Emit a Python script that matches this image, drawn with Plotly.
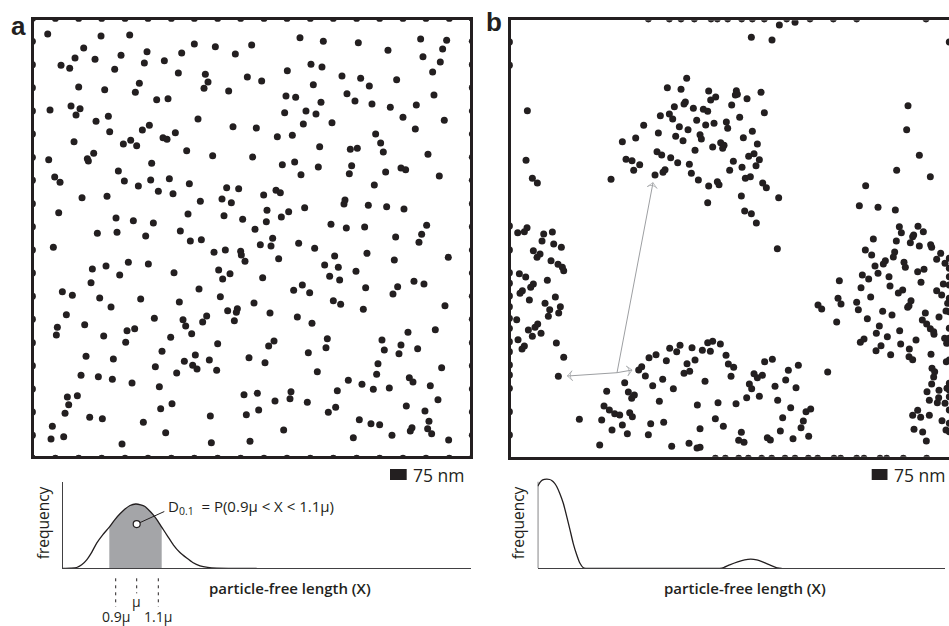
import plotly.graph_objects as go

# ---------------- data (particle positions, field units; y grows downward) ----------------
# Panel a: random particle field
A_UPPER = [
    (143,102),(303,108),(389,105),(900,113),(970,124),(1075,128),(1262,117),(1340,121),
    (251,144),(583,132),(646,140),(755,135),(1164,151),(1328,147),
    (225,174),(285,178),(363,166),(441,155),(545,159),(706,162),(1269,170),
    (183,196),(209,205),(344,208),(433,189),(493,182),(933,193),(966,201),(1321,186),
    (535,219),(616,223),(862,212),(1026,228),(1298,216),
    (236,261),(314,269),(418,250),(406,277),(624,246),(612,265),(686,273),(742,231),(785,243),
    (940,254),(1082,235),(1108,258),(1190,239),
    (470,299),(504,296),(858,288),(887,292),(1041,281),(1065,303),(1302,285),
    (150,330),(213,318),(240,326),(228,345),(963,307),(1116,312),(1171,322),(1249,315),
    (288,364),(325,349),(594,357),(854,338),(918,333),(948,342),(1209,352),(1333,361),
    (329,395),(427,390),(448,376),(526,398),(489,413),(501,418),(699,380),(769,384),(910,372),
    (996,368),(1246,387),
    (222,425),(370,432),(392,421),(410,437),(832,410),(877,406),(1127,402),(1142,429),
    (146,479),(262,476),(281,460),(265,483),(560,452),(638,467),(758,471),(959,440),(1051,448),
    (1072,445),(1150,456),(1284,463),
    (455,490),(847,494),(884,486),(955,501),(1055,497),(1048,521),(1203,504),(1217,509),
    (1157,516),(1318,528),
    (164,531),(180,547),(355,513),(373,543),(415,558),(452,540),(508,536),(568,551),(903,524),
    (1123,555),
    (246,593),(321,589),(475,574),(519,581),(680,563),(716,566),(791,585),(828,571),(841,578),
    (666,597),(694,608),(601,604),(1032,612),(1035,600),(1105,616),(1160,620),(1212,627),
    (176,638),(348,654),(400,662),(460,669),(564,642),(672,647),(728,658),(801,631),(799,665),
    (844,651),(866,635),(914,623),
    (765,688),(993,673),(1039,684),(1094,681),(1280,676),
]
A_LOWER = [
    (292,700),(351,697),(437,708),(541,693),(571,723),(604,719),(818,715),(1187,711),(1265,703),
    (1257,727),
    (160,742),(642,757),(676,750),(722,754),(724,765),(735,784),(781,734),(813,738),(896,730),
    (944,745),(836,776),(1101,760),(1004,768),(1183,780),(1345,772),
    (277,807),(318,798),(385,787),(445,792),(359,825),(522,818),(656,810),(690,821),(668,837),
    (788,833),(974,795),(1015,802),(989,829),(1019,840),(1068,814),
    (273,848),(187,875),(217,886),(299,894),(333,921),(422,897),(597,867),(538,906),(661,890),
    (762,909),(881,871),(907,855),(929,878),(1097,863),(1193,860),(1179,882),(1242,844),
    (1272,852),(1000,902),(1022,913),(1090,928),(1335,917),
    (199,944),(172,982),(169,1005),(254,974),(311,1008),(381,992),(404,986),(463,955),(549,959),
    (557,978),(575,1001),(608,966),(620,948),(683,932),(712,926),(709,937),(703,962),(810,939),
    (892,951),(936,970),(1306,989),
    (377,1027),(512,1012),(653,1031),(806,1038),(822,1023),(982,1016),(978,1043),(1146,1020),
    (1153,1050),(1224,997),(1203,1035),(1197,1061),(1253,1046),
    (258,1069),(340,1077),(486,1054),(586,1065),(553,1084),(578,1096),(591,1107),(628,1080),
    (650,1111),(747,1073),(795,1088),(925,1058),(1134,1091),(1325,1103),
    (243,1126),(295,1130),(337,1138),(396,1149),(466,1100),(530,1119),(952,1115),(1130,1123),
    (1228,1133),(1239,1146),(1045,1141),(1086,1153),(1120,1168),(1168,1164),(1291,1157),
    (202,1191),(232,1187),(206,1214),(478,1160),(516,1211),(482,1226),(732,1184),(772,1180),
    (825,1203),(873,1175),(870,1196),(922,1207),(1012,1172),(1314,1199),
    (195,1240),(269,1252),(307,1256),(430,1267),(631,1248),(739,1244),(776,1230),(985,1237),
    (1007,1222),(1219,1218),(1275,1233),(1078,1259),(1113,1271),(1139,1274),(1287,1264),
    (157,1279),(153,1317),(191,1310),(366,1332),(497,1298),(634,1328),(750,1324),(851,1290),
    (1060,1313),(1176,1306),(1236,1283),(1231,1293),(1283,1286),(1295,1301),(1346,1320),
]
# boundary particles of panel a (regular spacing along each edge)
A_EDGE_X = [97,166,236,305,375,444,514,583,653,722,792,861,931,1000,1070,1139,1209,1278,1348,1417]
A_EDGE_Y = [55,124,194,263,333,402,472,541,611,680,750,819,889,958,1028,1097,1167,1236,1306,1375]

# Panel b: clustered particle field
B_UPPER = [
    (898,75),(945,67),(814,112),(876,120),
    (620,235),(562,263),(603,268),(686,273),(769,272),(766,285),(772,283),(843,277),(707,291),
    (692,300),(801,296),
    (583,320),(616,306),(612,312),(640,325),(670,328),(683,334),(755,315),(853,338),(541,347),
    (568,342),(578,357),(779,352),
    (491,376),(598,380),(624,389),(650,361),(677,375),(702,370),(739,366),(743,385),
    (467,414),(427,425),(535,399),(587,409),(609,422),(660,404),(664,417),(698,441),(722,428),
    (732,436),(728,445),(790,413),(817,394),(832,432),
    (531,455),(545,465),(572,473),(645,451),(806,469),(822,461),(838,479),
    (438,478),(456,482),(479,494),(461,511),(593,488),(628,493),(760,484),(786,502),(828,497),
    (525,525),(549,517),(555,509),(634,520),(655,540),(749,511),(796,535),(811,530),
    (393,538),(686,558),(712,545),(717,554),(848,549),(859,563),
    (683,608),(784,588),(896,593),
    (794,633),(814,641),(829,669),
    (142,332),(138,481),(157,535),(172,549),(141,683),
    (1284,317),(1280,389),(1318,466),(1250,511),(1351,530),(1157,557),(1138,617),(1194,622),
    (1246,630),(1258,680),(1314,679),
]
B_LOWER = [
    # left cluster
    (113,698),(133,695),(191,702),(186,723),(217,696),(221,732),(244,742),(160,752),(180,762),
    (171,772),(213,782),(234,793),(247,802),(251,812),
    (118,821),(137,831),(202,841),(160,852),(152,862),(127,872),(120,880),(148,900),(195,910),
    (226,891),(209,929),(241,920),(236,939),(205,949),
    (110,959),(145,990),(173,972),(165,982),(157,1009),(183,1000),(114,1019),(133,1038),
    (126,1047),(229,1029),(251,1072),(235,1129),
    # bottom cluster
    (380,1174),(434,1148),(445,1176),(455,1195),(463,1185),(476,1110),(485,1100),(496,1128),
    (507,1073),(528,1064),(518,1157),(548,1138),(559,1082),(569,1045),(590,1055),(600,1036),
    (580,1166),(538,1204),(612,1120),(621,1091),(629,1114),(636,1043),(645,1080),(667,1051),
    (683,1028),(698,1024),(691,1054),(721,1032),(738,1066),(745,1092),(761,1102),(753,1129),
    (675,1144),(652,1215),(714,1208),(768,1211),(706,1256),(730,1279),(660,1286),(551,1267),
    (512,1271),(505,1304),(442,1301),(427,1275),(396,1290),(365,1260),(298,1258),(372,1218),
    (388,1230),(404,1241),(419,1245),(449,1238),(457,1250),(359,1335),(575,1339),(627,1330),
    (651,1344),(660,1342),(776,1321),(792,1327),(784,1297),(862,1313),(871,1320),(901,1293),
    (939,1316),(986,1309),(963,1283),(970,1263),(978,1235),(992,1227),(908,1253),(932,1223),
    (893,1201),(838,1189),(800,1193),(808,1152),(815,1166),(822,1121),(832,1133),(847,1126),
    (854,1085),(877,1078),(885,1159),(917,1140),(925,1111),(948,1163),(955,1096),
    (892,746),(1043,1116),
    # right cluster
    (1180,717),(1249,723),(1264,698),(1298,710),(1301,705),(1291,728),(1318,738),(1352,734),
    (1355,742),(1330,695),
    (1156,750),(1175,765),(1244,756),(1240,771),(1216,782),(1210,792),(1185,798),(1194,820),
    (1272,787),(1276,802),(1313,815),(1332,808),(1370,778),(1382,760),(1395,790),
    (1147,825),(1166,837),(1227,830),(1078,842),(1143,863),(1172,891),(1230,858),(1255,879),
    (1268,870),(1323,847),(1390,852),(1370,872),(1385,885),
    (1074,895),(1083,912),(1014,915),(1025,927),(1130,907),(1135,929),(1208,934),(1236,945),
    (1283,922),(1293,902),(1287,917),(1336,939),(1377,951),(1398,933),(1403,910),
    (1070,966),(1162,956),(1198,978),(1189,1000),(1222,1010),(1259,992),(1327,960),(1340,972),
    (1351,986),(1362,1003),(1361,995),(1308,1020),(1394,1015),
    (1141,1027),(1152,1017),(1203,1037),(1188,1052),(1232,1064),(1262,1032),(1288,1047),
    (1287,1070),(1298,1079),(1353,1063),(1400,1030),
    (1356,1105),(1364,1115),(1361,1131),(1355,1152),(1399,1085),(1341,1175),(1377,1171),
    (1348,1201),(1376,1193),(1372,1208),(1401,1165),(1395,1210),
    (1313,1231),(1298,1246),(1322,1252),(1348,1246),(1386,1262),(1302,1288),(1328,1296),
    (1339,1323),(1398,1290),
]
B_TOP_EDGE_X = [505,568,603,643,693,712,743,785,817,853,920,990,1060,1130,1338]
B_BOTTOM_EDGE_X = [706,736,776,805,845,875,915,945,985,1013,1062,1082,1130,1152,1200,1220,1270,1340]
B_LEFT_EDGE_Y = [126,196,678,750,818,850,888,920,955,985,1025,1055,1095,1125,1165,1235,1305]
B_RIGHT_EDGE_Y = [126,775,805,830,855,895,935,985,1015,1080,1150,1170,1190,1230,1270,1295]
B_EDGE_POS = {"top": 57, "bottom": 1375, "left": 88, "right": 1408}

# particle-free length distributions
A_DIST_X = [0, 8, 14, 19, 24, 29, 34, 40, 46.6, 52, 57.3, 62, 67.3, 73, 78, 82.3, 86, 90.6, 95, 99,
            105, 110.6, 117, 124, 130, 137.3, 145, 154, 194]
A_DIST_Y = [0, 0.2, 0.8, 3.5, 8.5, 16, 25.2, 33.5, 41.2, 48.5, 54.5, 59, 62.8, 64.3, 63.5, 61.8,
            58.3, 53.5, 47.5, 41.2, 32, 23.5, 16, 10.2, 5.8, 2.5, 0.9, 0.2, 0]
FILL_X = [46.6, 52, 57.3, 62, 67.3, 73, 78, 82.3, 86, 90.6, 95, 99]
FILL_Y = [41.2, 48.5, 54.5, 59, 62.8, 64.3, 63.5, 61.8, 58.3, 53.5, 47.5, 41.2]
MU_TICKS = [53, 74, 95.6]
MU_LABELS = ["0.9\u03bc", "\u03bc", "1.1\u03bc"]
MU_POINT = (74, 44.2)

B_DIST_X = [0, 2.3, 5, 9, 12, 14, 17, 19, 22, 25.6, 29, 32.3, 35.5, 39, 42, 45.6, 48, 80, 120, 150,
            182, 186, 192, 200, 207, 213, 219, 226, 233, 240, 244]
B_DIST_Y = [82, 86, 88.5, 89.2, 88.8, 87.8, 85, 81.8, 75, 65, 52, 38.5, 25, 13.5, 5.5, 0.5, 0, 0, 0, 0,
            0, 0.8, 3.5, 6.5, 8.5, 9.2, 8.5, 6, 3, 0.3, 0]

# arrows in panel b (particle-free lengths measured from one particle)
ARROW_TAIL = (411, 1118)
ARROW_HEADS = [(519, 548), (262, 1128), (456, 1110)]

# ---------------- figure ----------------
W, H = 949, 626
INK = "#231f20"
def PX(x): return x / W
def PY(y): return 1 - y / H

def edge_points_a():
    pts = []
    for x in A_EDGE_X:
        pts += [(x, A_EDGE_Y[0]), (x, A_EDGE_Y[-1])]
    for y in A_EDGE_Y:
        pts += [(A_EDGE_X[0], y), (A_EDGE_X[-1], y)]
    return pts

def edge_points_b():
    pts = [(x, B_EDGE_POS["top"]) for x in B_TOP_EDGE_X]
    pts += [(x, B_EDGE_POS["bottom"]) for x in B_BOTTOM_EDGE_X]
    pts += [(B_EDGE_POS["left"], y) for y in B_LEFT_EDGE_Y]
    pts += [(B_EDGE_POS["right"], y) for y in B_RIGHT_EDGE_Y]
    return pts

a_pts = A_UPPER + A_LOWER + edge_points_a()
b_pts = B_UPPER + B_LOWER + edge_points_b()

fig = go.Figure()
mk = dict(size=7, color=INK, line=dict(width=0))
fig.add_trace(go.Scatter(x=[p[0] for p in a_pts], y=[p[1] for p in a_pts], mode="markers",
                         marker=mk, xaxis="x", yaxis="y", hoverinfo="skip"))
# gray arrows (drawn under the particles)
for hx, hy in ARROW_HEADS:
    fig.add_trace(go.Scatter(x=[ARROW_TAIL[0], hx], y=[ARROW_TAIL[1], hy], mode="lines+markers",
                             line=dict(color="#9d9fa2", width=1),
                             marker=dict(symbol=["circle", "arrow-wide-open"], size=[0, 7],
                                         angleref="previous", color="#9d9fa2",
                                         line=dict(color="#9d9fa2", width=1)),
                             xaxis="x2", yaxis="y2", hoverinfo="skip"))
fig.add_trace(go.Scatter(x=[p[0] for p in b_pts], y=[p[1] for p in b_pts], mode="markers",
                         marker=mk, xaxis="x2", yaxis="y2", hoverinfo="skip"))

# distribution a
fig.add_trace(go.Scatter(x=FILL_X, y=FILL_Y, mode="lines", fill="tozeroy", fillcolor="#a4a5a8",
                         line=dict(width=0, shape="spline", smoothing=0.6), xaxis="x3", yaxis="y3",
                         hoverinfo="skip"))
fig.add_trace(go.Scatter(x=A_DIST_X, y=A_DIST_Y, mode="lines",
                         line=dict(color=INK, width=1.3, shape="spline", smoothing=0.6),
                         xaxis="x3", yaxis="y3", hoverinfo="skip"))
fig.add_trace(go.Scatter(x=[MU_POINT[0], 101.6], y=[MU_POINT[1], 56.8], mode="lines",
                         line=dict(color=INK, width=1), xaxis="x3", yaxis="y3", hoverinfo="skip"))
fig.add_trace(go.Scatter(x=[MU_POINT[0]], y=[MU_POINT[1]], mode="markers",
                         marker=dict(size=7, color="white", line=dict(color=INK, width=1.2)),
                         xaxis="x3", yaxis="y3", hoverinfo="skip"))
# distribution b
fig.add_trace(go.Scatter(x=B_DIST_X, y=B_DIST_Y, mode="lines",
                         line=dict(color=INK, width=1.3, shape="spline", smoothing=0.5),
                         xaxis="x4", yaxis="y4", hoverinfo="skip"))

box = dict(showline=True, linewidth=3, linecolor=INK, showgrid=False, zeroline=False,
           showticklabels=False, ticks="", fixedrange=True)
dist = dict(showline=True, linewidth=1.3, linecolor="#414042", showgrid=False, zeroline=False,
            showticklabels=False, ticks="", fixedrange=True)

fig.update_layout(
    width=W, height=H, margin=dict(l=0, r=0, t=0, b=0),
    paper_bgcolor="white", plot_bgcolor="white", showlegend=False,
    xaxis=dict(box, domain=[PX(33.7), PX(470.3)], range=[101, 1411], mirror=True, anchor="y"),
    yaxis=dict(box, domain=[PY(456.3), PY(19.7)], range=[1369, 59], mirror=True, anchor="x"),
    xaxis2=dict(box, domain=[PX(510.7), 1.0], range=[92, 1407], mirror=True, anchor="y2"),
    yaxis2=dict(box, domain=[PY(456.7), PY(20.3)], range=[1370, 61], mirror=False, anchor="x2"),
    xaxis3=dict(dist, domain=[PX(62.7), PX(470.7)], range=[0, 408], anchor="y3"),
    yaxis3=dict(dist, domain=[PY(568.3), PY(481.7)], range=[0, 86.6], anchor="x3"),
    xaxis4=dict(dist, domain=[PX(537.7), PX(945)], range=[0, 407.3], anchor="y4"),
    yaxis4=dict(dist, domain=[PY(568.3), PY(477)], range=[0, 91.3], showline=False, anchor="x4"),
)

shapes = []
# b distribution y axis line (shorter than its plot area)
shapes.append(dict(type="line", xref="x4", yref="y4", x0=0, x1=0, y0=0, y1=86.6,
                   line=dict(color="#414042", width=1.3)))
# dashed ticks under distribution a
for xv, y1 in zip(MU_TICKS, [606.7, 593.3, 606.7]):
    shapes.append(dict(type="line", xref="x3", yref="paper", x0=xv, x1=xv, y0=PY(578.3), y1=PY(y1),
                       line=dict(color=INK, width=1, dash="3px,4px")))
# scale bars
shapes.append(dict(type="rect", xref="paper", yref="paper", x0=PX(390), x1=PX(406.7),
                   y0=PY(480), y1=PY(469), fillcolor=INK, line=dict(width=0)))
shapes.append(dict(type="rect", xref="paper", yref="paper", x0=PX(871.7), x1=PX(887.5),
                   y0=PY(480), y1=PY(469), fillcolor=INK, line=dict(width=0)))
fig.update_layout(shapes=shapes)

FONT = "Open Sans"
ann = []
def txt(x, y, s, size, xanchor="center", yanchor="middle", angle=0, family=FONT, weight=400,
        xref="paper", yref="paper"):
    ann.append(dict(x=x, y=y, xref=xref, yref=yref, text=s, showarrow=False, xanchor=xanchor,
                    yanchor=yanchor, textangle=angle, borderpad=0,
                    font=dict(family=family, size=size, color=INK, weight=weight)))

txt(PX(18.5), PY(25.5), "a", 26, family="Liberation Sans", weight=700)
txt(PX(494.5), PY(22), "b", 26, family="Liberation Sans", weight=700)
txt(PX(412), PY(474.5), "75 nm", 17.5, xanchor="left")
txt(PX(893), PY(474.5), "75 nm", 17.5, xanchor="left")
txt(PX(43.3), PY(523), "frequency", 15.5, angle=-90)
txt(PX(518.3), PY(523), "frequency", 15.5, angle=-90)
txt(PX(289.7), PY(588.3), "particle-free length (X)", 15, weight=600)
txt(PX(745), PY(587.7), "particle-free length (X)", 15, weight=600)
txt(104, PY(507), "D<sub>0.1</sub>  = P(0.9\u03bc < X < 1.1\u03bc)", 15, xanchor="left",
    xref="x3")
for xv, lab, yy in zip(MU_TICKS, MU_LABELS, [616.5, 601.5, 616.5]):
    txt(xv, PY(yy), lab, 14, xref="x3")
fig.update_layout(annotations=ann)

# the page body gets no default margin so the figure fills the window exactly
fig.write_html("out.html", config={"displayModeBar": False},
               post_script="document.body.style.margin='0px';")
